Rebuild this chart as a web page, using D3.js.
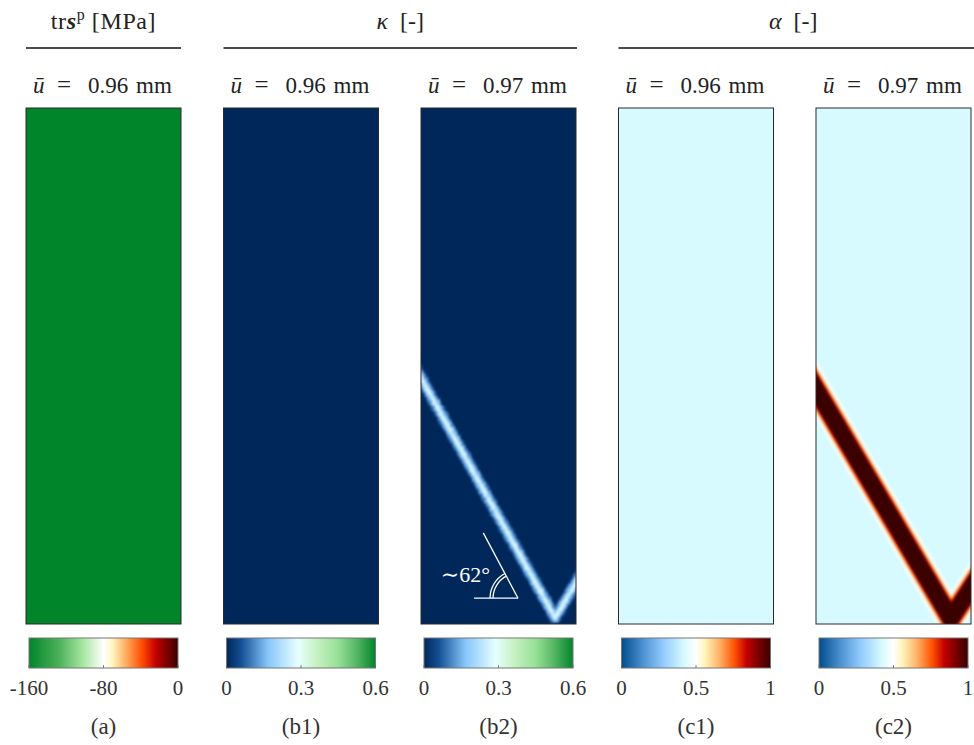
<!DOCTYPE html>
<html><head><meta charset="utf-8">
<script src="https://cdn.jsdelivr.net/npm/d3@7"></script>
<style>
body{margin:0;background:#fff}
svg{display:block}
</style>
</head><body>
<svg id="chart" width="974" height="745"></svg>
<script>
// ---------------- data ----------------
const panelIds     = ["a", "b1", "b2", "c1", "c2"];
const panelLabels  = ["(a)", "(b1)", "(b2)", "(c1)", "(c2)"];
const panelDisp    = ["0.96", "0.96", "0.97", "0.96", "0.97"];   // ū [mm]
const panelField   = ["trs", "kappa", "kappa", "alpha", "alpha"];
const panelBackground = [-160, 0, 0, 0.42, 0.42];               // uniform field value

const fieldDomains = { trs: [-160, 0], kappa: [0, 0.6], alpha: [0, 1] };
const tickValues   = { trs: [-160, -80, 0], kappa: [0, 0.3, 0.6], alpha: [0, 0.5, 1] };
const tickLabels   = { trs: ["-160", "-80", "0"], kappa: ["0", "0.3", "0.6"], alpha: ["0", "0.5", "1"] };

// colormaps: [relative position, colour]
const cmapTrs = [[0,"#00852b"],[0.2,"#4bb058"],[0.36,"#a6e6a0"],[0.5,"#ffffff"],[0.56,"#fff6c0"],
                 [0.66,"#ffa457"],[0.76,"#ff4b00"],[0.85,"#c40000"],[0.93,"#7a0000"],[1,"#3a0000"]];
const cmapKappa = [[0,"#00275a"],[0.1,"#145096"],[0.28,"#88c6fa"],[0.48,"#e6ffff"],
                   [0.6,"#c8f2c4"],[0.75,"#96e096"],[0.88,"#50b460"],[1,"#00852b"]];
const cmapAlpha = [[0,"#004c8a"],[0.14,"#4a8fcf"],[0.28,"#92cbff"],[0.42,"#d6faff"],[0.5,"#ffffff"],
                   [0.56,"#fff4bc"],[0.66,"#ffb064"],[0.76,"#ff5200"],[0.84,"#c40000"],[0.92,"#7a0000"],[1,"#3a0000"]];

// groups of header titles
const groupTitles = ["trs", "kappa", "alpha"];
const groupFirst  = [0, 1, 3];
const groupLast   = [0, 2, 4];

// localisation band centre lines (x,y relative to panel width/height)
const bandB2 = [[0, 0.523], [0.865, 0.988], [1, 0.92]];
const bandC2 = [[0, 0.545], [0.87, 0.99], [1, 0.93]];
// band cross-section profile: [stroke width px, field value]
const profileB2 = [[13, 0.05], [10, 0.11], [7, 0.17], [3, 0.27]];
const profileC2 = [[30, 0.47], [25, 0.56], [23, 0.66], [21, 0.78], [19, 0.88], [16, 1.0]];

const angleAnchor = [0.626, 0.95];
const angleDeg = 62;
const angleText = "\u223C62\u00B0";

// ---------------- layout ----------------
const FONT = "'Liberation Serif','Times New Roman',Tinos,'DejaVu Serif','Noto Serif',serif";
const W = 974, H = 745;
const pW = 155, pTop = 108, pH = 516;
const xPanel = d3.scaleLinear().domain([0, 4]).range([26, 816]);
const cbTop = 638, cbH = 30, cbInset = 3;

const svg = d3.select("#chart").attr("font-family", FONT);
const defs = svg.append("defs");

const cmaps = { trs: cmapTrs, kappa: cmapKappa, alpha: cmapAlpha };
const colorScale = {};
for (const f of Object.keys(cmaps)) {
  const [d0, d1] = fieldDomains[f];
  colorScale[f] = d3.scaleLinear()
    .domain(cmaps[f].map(s => d0 + s[0] * (d1 - d0)))
    .range(cmaps[f].map(s => s[1]))
    .interpolate(d3.interpolateRgb).clamp(true);
}

function addBlur(id, sd) {
  const f = defs.append("filter").attr("id", id).attr("x", "-20%").attr("y", "-20%").attr("width", "140%").attr("height", "140%");
  f.append("feGaussianBlur").attr("stdDeviation", sd);
}
addBlur("blur1", 1.3);
{
  const f = defs.append("filter").attr("id", "rough").attr("x", "-20%").attr("y", "-20%").attr("width", "140%").attr("height", "140%");
  f.append("feTurbulence").attr("type", "fractalNoise").attr("baseFrequency", 0.35).attr("numOctaves", 2).attr("seed", 4).attr("result", "n");
  f.append("feDisplacementMap").attr("in", "SourceGraphic").attr("in2", "n").attr("scale", 3.5).attr("xChannelSelector", "R").attr("yChannelSelector", "G").attr("result", "d");
  f.append("feGaussianBlur").attr("in", "d").attr("stdDeviation", 0.8);
}

function txt(sel) { return sel.append("text").attr("font-family", FONT); }

// ---------------- header titles ----------------
groupTitles.forEach((g, gi) => {
  const x0 = xPanel(groupFirst[gi]);
  const x1 = gi === 2 ? W : xPanel(groupLast[gi]) + pW + (gi === 1 ? 1 : 0);
  svg.append("line").attr("x1", x0).attr("x2", x1).attr("y1", 48).attr("y2", 48)
    .attr("stroke", "#111").attr("stroke-width", 1.5);
  const cx = (x0 + x1) / 2 - (gi === 2 ? 3 : 0);
  const t = txt(svg).attr("x", cx).attr("y", 29).attr("text-anchor", "middle")
    .attr("font-size", 24).attr("fill", "#222");
  if (g === "trs") {
    t.attr("letter-spacing", 0.6);
    t.append("tspan").text("tr");
    t.append("tspan").attr("font-weight", "bold").attr("font-style", "italic").text("s");
    t.append("tspan").attr("dy", -9).attr("font-size", 16).text("p");
    t.append("tspan").attr("dy", 9).text("\u00A0[MPa]");
  } else {
    t.append("tspan").attr("font-style", "italic").text(g === "kappa" ? "\u03BA" : "\u03B1");
    t.append("tspan").text("\u00A0\u00A0[-]");
  }
});

// ---------------- panels ----------------
panelIds.forEach((id, i) => {
  const px = xPanel(i);
  const f = panelField[i];
  const g = svg.append("g").attr("transform", `translate(${px},0)`);

  // subtitle  ū = 0.96 mm
  const st = txt(g).attr("y", 93).attr("font-size", 23).attr("fill", "#222");
  st.append("tspan").attr("x", 7).attr("font-style", "italic").text("\u016B");
  st.append("tspan").attr("x", 31).attr("font-size", 25).text("=");
  st.append("tspan").attr("x", 62).text(panelDisp[i]);
  st.append("tspan").attr("x", 110).text("mm");

  // field
  const clipId = "clip-" + id;
  defs.append("clipPath").attr("id", clipId).append("rect").attr("x", 0).attr("y", pTop).attr("width", pW).attr("height", pH);
  const xs = d3.scaleLinear().domain([0, 1]).range([0, pW]);
  const ys = d3.scaleLinear().domain([0, 1]).range([pTop, pTop + pH]);
  const field = g.append("g").attr("clip-path", `url(#${clipId})`);
  field.append("rect").attr("x", 0).attr("y", pTop).attr("width", pW).attr("height", pH)
    .attr("fill", colorScale[f](panelBackground[i]));

  const band = id === "b2" ? bandB2 : id === "c2" ? bandC2 : null;
  const prof = id === "b2" ? profileB2 : profileC2;
  if (band) {
    const pts = band.map(p => [xs(p[0]), ys(p[1])]);
    const ext = (a, b) => { const dx = a[0] - b[0], dy = a[1] - b[1], L = Math.hypot(dx, dy); return [a[0] + dx / L * 30, a[1] + dy / L * 30]; };
    const full = [ext(pts[0], pts[1]), ...pts, ext(pts[pts.length - 1], pts[pts.length - 2])];
    const line = d3.line();
    const bg = field.append("g").attr("filter", id === "b2" ? "url(#rough)" : "url(#blur1)");
    prof.forEach(([w, v]) => {
      bg.append("path").attr("d", line(full)).attr("fill", "none")
        .attr("stroke", colorScale[f](v)).attr("stroke-width", w)
        .attr("stroke-linejoin", "round");
    });
  }
  g.append("rect").attr("x", 0).attr("y", pTop).attr("width", pW).attr("height", pH)
    .attr("fill", "none").attr("stroke", "#2a2a2a").attr("stroke-width", 1);

  // angle annotation
  if (id === "b2") {
    const ax = xs(angleAnchor[0]), ay = ys(angleAnchor[1]);
    const a = angleDeg * Math.PI / 180;
    const ann = g.append("g").attr("stroke", "#fff").attr("fill", "none").attr("stroke-width", 1.3);
    ann.append("line").attr("x1", ax - 44).attr("y1", ay).attr("x2", ax).attr("y2", ay);
    ann.append("line").attr("x1", ax).attr("y1", ay).attr("x2", ax - 74 * Math.cos(a)).attr("y2", ay - 74 * Math.sin(a));
    [25, 28].forEach(r => {
      const arc = d3.path();
      arc.arc(ax, ay, r, Math.PI, Math.PI + a, false);
      ann.append("path").attr("d", arc.toString());
    });
    txt(g).attr("x", ax - 28).attr("y", ay - 16).attr("text-anchor", "end")
      .attr("font-size", 22).attr("fill", "#fff").text(angleText);
  }

  // colour bar
  const cbX = cbInset, cbW = pW - 2 * cbInset;
  const gradId = "grad-" + id;
  const grad = defs.append("linearGradient").attr("id", gradId).attr("x1", 0).attr("x2", 1).attr("y1", 0).attr("y2", 0);
  const [d0, d1] = fieldDomains[f];
  d3.range(0, 1.0001, 0.02).forEach(t => {
    grad.append("stop").attr("offset", t).attr("stop-color", colorScale[f](d0 + t * (d1 - d0)));
  });
  g.append("rect").attr("x", cbX).attr("y", cbTop).attr("width", cbW).attr("height", cbH)
    .attr("fill", `url(#${gradId})`).attr("stroke", "#777").attr("stroke-width", 1);

  const cbScale = d3.scaleLinear().domain(fieldDomains[f]).range([cbX, cbX + cbW]);
  tickValues[f].forEach((v, k) => {
    g.append("line").attr("x1", cbScale(v)).attr("x2", cbScale(v))
      .attr("y1", cbTop + cbH).attr("y2", cbTop + cbH - 3).attr("stroke", "#666").attr("stroke-width", 0.8);
    txt(g).attr("x", cbScale(v)).attr("y", 695).attr("text-anchor", "middle")
      .attr("font-size", 21).attr("fill", "#333").text(tickLabels[f][k]);
  });

  // panel label
  txt(g).attr("x", pW / 2).attr("y", 734).attr("text-anchor", "middle")
    .attr("font-size", 23).attr("fill", "#333").text(panelLabels[i]);
});
</script>
</body></html>
